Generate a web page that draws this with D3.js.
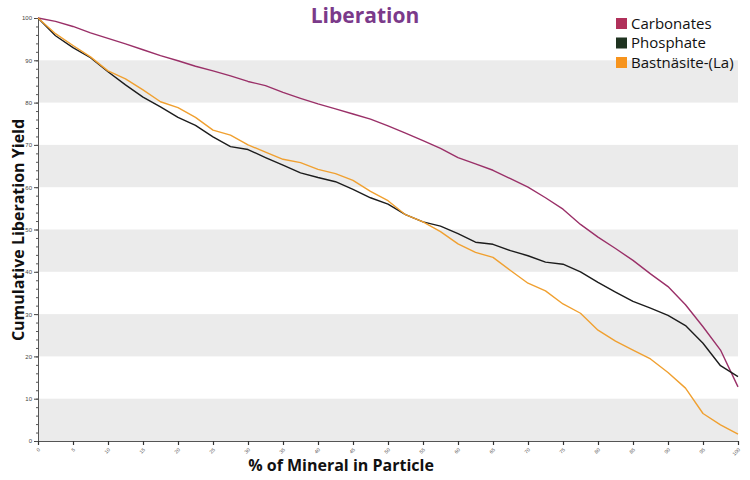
<!DOCTYPE html>
<html>
<head>
<meta charset="utf-8">
<script src="https://cdn.jsdelivr.net/npm/d3@7"></script>
<style>
    body { margin: 0; background: #ffffff; }
    svg { display: block; font-family: 'Open Sans', 'Noto Sans', sans-serif; }
</style>
</head>
<body>
<svg id="chart" width="750" height="480"></svg>
<script>
'use strict';

// % of mineral in particle
var percents = [0, 2.5, 5, 7.5, 10, 12.5, 15, 17.5, 20, 22.5, 25, 27.5, 30, 32.5, 35, 37.5, 40,
    42.5, 45, 47.5, 50, 52.5, 55, 57.5, 60, 62.5, 65, 67.5, 70, 72.5, 75, 77.5, 80,
    82.5, 85, 87.5, 90, 92.5, 95, 97.5, 100];

var carbonates = [100, 99.2, 98.0, 96.5, 95.2, 93.9, 92.5, 91.1, 89.9, 88.6, 87.5, 86.3, 85.0,
    84.0, 82.4, 81.0, 79.7, 78.5, 77.3, 76.1, 74.5, 72.8, 71.0, 69.2, 67.0, 65.5, 64.0,
    62.0, 60.0, 57.5, 54.8, 51.2, 48.2, 45.5, 42.7, 39.5, 36.5, 32.2, 27.0, 21.5, 12.8];

var phosphate = [100, 95.8, 93.0, 90.6, 87.3, 84.2, 81.3, 79.0, 76.5, 74.6, 71.9, 69.6, 68.9,
    67.0, 65.2, 63.4, 62.3, 61.3, 59.5, 57.5, 56.0, 53.5, 51.8, 50.8, 49.0, 47.0, 46.5,
    45.0, 43.8, 42.3, 41.8, 40.0, 37.5, 35.2, 33.0, 31.4, 29.7, 27.3, 23.1, 17.8, 15.2];

var bastnasite = [100, 96.3, 93.5, 90.8, 87.5, 85.6, 83.0, 80.2, 78.8, 76.5, 73.5, 72.3, 70.0,
    68.3, 66.6, 65.8, 64.2, 63.2, 61.6, 59.0, 56.8, 53.5, 51.8, 49.5, 46.6, 44.6, 43.4,
    40.3, 37.3, 35.5, 32.4, 30.2, 26.2, 23.6, 21.5, 19.4, 16.2, 12.5, 6.5, 3.8, 1.6];

var seriesNames = ['Carbonates', 'Phosphate', 'Bastnäsite-(La)'];
var seriesValues = [carbonates, phosphate, bastnasite];
var lineColors = ['#9a3068', '#1c1c1c', '#f0a030'];
var swatchColors = ['#b0305a', '#1f3320', '#f7941d'];

var xTicks = d3.range(0, 101, 5);
var yTicks = d3.range(0, 101, 10);
var yMinorTicks = d3.range(0, 101, 2);
var bands = [[80, 90], [60, 70], [40, 50], [20, 30], [0, 10]];

var margin = { left: 38, right: 12, top: 18, bottom: 39 };
var width = 750, height = 480;

var svg = d3.select('#chart');

var x = d3.scaleLinear().domain([0, 100]).range([margin.left, width - margin.right]);
var y = d3.scaleLinear().domain([0, 100]).range([height - margin.bottom, margin.top]);

// grey bands
svg.append('g').selectAll('rect')
    .data(bands)
    .enter().append('rect')
    .attr('x', x(0))
    .attr('width', x(100) - x(0))
    .attr('y', function(d) { return y(d[1]); })
    .attr('height', function(d) { return y(d[0]) - y(d[1]); })
    .attr('fill', '#ebebeb');

// y axis
var yAxis = svg.append('g')
    .attr('transform', 'translate(' + x(0) + ',0)')
    .call(d3.axisLeft(y).tickValues(yTicks).tickSize(4).tickFormat(d3.format('d')));
yAxis.select('.domain').attr('stroke', '#555');
yAxis.selectAll('.tick line').attr('stroke', '#444');
yAxis.selectAll('.tick text').attr('font-size', 6).attr('fill', '#444').attr('x', -6);

svg.append('g')
    .attr('transform', 'translate(' + x(0) + ',0)')
    .call(d3.axisLeft(y).tickValues(yMinorTicks).tickSize(2).tickFormat(''))
    .call(function(g) { g.select('.domain').remove(); })
    .selectAll('.tick line').attr('stroke', '#555');

// x axis
var xAxis = svg.append('g')
    .attr('transform', 'translate(0,' + y(0) + ')')
    .call(d3.axisBottom(x).tickValues(xTicks).tickSize(4).tickFormat(d3.format('d')));
xAxis.select('.domain').attr('stroke', '#555');
xAxis.selectAll('.tick line').attr('stroke', '#333').attr('stroke-width', 1.2);
xAxis.selectAll('.tick text')
    .attr('font-size', 5)
    .attr('fill', '#555')
    .attr('text-anchor', 'end')
    .attr('dy', 0)
    .attr('y', 0)
    .attr('transform', 'translate(2,9) rotate(-45)');

// lines
var line = d3.line()
    .x(function(d) { return x(d[0]); })
    .y(function(d) { return y(d[1]); });

seriesValues.forEach(function(values, i) {
    var pts = percents.map(function(p, j) { return [p, values[j]]; });
    svg.append('path')
        .datum(pts)
        .attr('d', line)
        .attr('fill', 'none')
        .attr('stroke', lineColors[i])
        .attr('stroke-width', 1.4)
        .attr('stroke-linejoin', 'round');
});

// title
svg.append('text')
    .attr('x', 365)
    .attr('y', 23)
    .attr('text-anchor', 'middle')
    .attr('font-size', 21)
    .attr('font-weight', 'bold')
    .attr('fill', '#7b3a8a')
    .text('Liberation');

// axis titles
svg.append('text')
    .attr('x', 341)
    .attr('y', 471)
    .attr('text-anchor', 'middle')
    .attr('font-size', 16)
    .attr('font-weight', 'bold')
    .attr('fill', '#111')
    .text('% of Mineral in Particle');

svg.append('text')
    .attr('transform', 'translate(24,' + 230 + ') rotate(-90)')
    .attr('text-anchor', 'middle')
    .attr('font-size', 16)
    .attr('font-weight', 'bold')
    .attr('fill', '#111')
    .text('Cumulative Liberation Yield');

// legend
var legend = svg.append('g').attr('transform', 'translate(616,18)');
var item = legend.selectAll('g')
    .data(seriesNames)
    .enter().append('g')
    .attr('transform', function(d, i) { return 'translate(0,' + (i * 19.5) + ')'; });
item.append('rect')
    .attr('width', 11)
    .attr('height', 11)
    .attr('fill', function(d, i) { return swatchColors[i]; });
item.append('text')
    .attr('x', 15)
    .attr('y', 10.5)
    .attr('font-size', 15)
    .attr('fill', '#111')
    .text(function(d) { return d; });
</script>
</body>
</html>
